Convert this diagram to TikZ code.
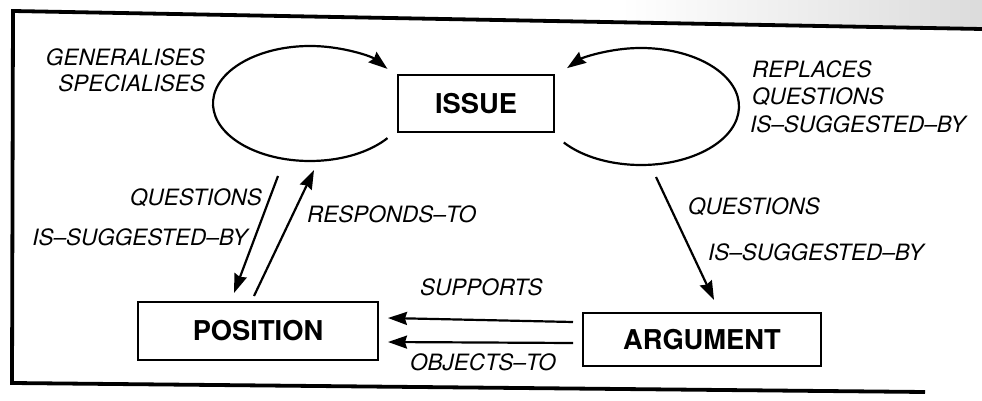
\documentclass[tikz,border=0pt]{standalone}
\usepackage{fontspec}
\setmainfont{TeX Gyre Heros}
\usetikzlibrary{arrows.meta,calc}
\begin{document}
\begin{tikzpicture}[x=1pt,y=-1pt,
  entity/.style={draw, line width=1.6pt, inner sep=0pt,
    font=\fontsize{27.3}{32}\selectfont\bfseries},
  rel/.style={inner sep=0pt, font=\fontsize{22.5}{27}\selectfont\itshape},
  link/.style={line width=2.2pt,
    -{Stealth[length=19pt,width=13pt,inset=2pt]}},
  frameline/.style={line width=3.8pt, line join=miter}]
\useasboundingbox (0,0) rectangle (982,401);

% paper tone above the frame
\shade[left color=white, right color=black!14, draw=none]
  (620,0) -- (982,0) -- (982,28) -- (620,22) -- cycle;

% outer frame
\draw[frameline] (982,29) -- (13,11) -- (12,383) -- (925,392);

% the three entities
\node[entity, minimum width=156pt, minimum height=57pt] (issue) at (476,103.5) {ISSUE};
\node[entity, minimum width=240pt, minimum height=58pt] (pos) at (258,331) {POSITION};
\node[entity, minimum width=238pt, minimum height=53pt] (arg) at (702,339.5) {ARGUMENT};

% self loops on ISSUE
\draw[link] ($(issue)+(-166,0)$) ++(37:97 and 57.5)
  arc[start angle=37, end angle=323, x radius=97, y radius=57.5];
\draw[link] ($(issue)+(165,3)$) ++(142:98 and 58.5)
  arc[start angle=142, end angle=-139, x radius=98, y radius=58.5];

% ISSUE <-> POSITION
\draw[link] ($(issue)+(-198,72.5)$) -- ($(pos)+(-24,-38)$);
\draw[link] ($(pos)+(-4,-35)$) -- ($(issue)+(-162,66.5)$);

% ISSUE -> ARGUMENT
\draw[link] ($(issue)+(180,73.5)$) -- ($(arg)+(12,-39.5)$);

% ARGUMENT -> POSITION
\draw[link] ($(arg)+(-129,-17.5)$) -- ($(pos)+(130,-13)$);
\draw[link] ($(arg)+(-129,3.5)$) -- ($(pos)+(130,11)$);

% relation labels
\node[rel, anchor=base east] (l1) at (205,65.5) {GENERALISES};
\node[rel, anchor=base east] (l2) at (205,91.5) {SPECIALISES};

\node[rel, anchor=base west] (r1) at (752,78) {REPLACES};
\node[rel, anchor=base west] (r2) at (752,104.5) {QUESTIONS};
\node[rel, anchor=base west] (r3) at (750,132) {IS--SUGGESTED--BY};

\node[rel, anchor=base east] (q1) at (262,205) {QUESTIONS};
\node[rel, anchor=base] (q2) at (140,245) {IS--SUGGESTED--BY};
\node[rel, anchor=base west] (q3) at (307,222) {RESPONDS--TO};

\node[rel, anchor=base west] (a1) at (688,214) {QUESTIONS};
\node[rel, anchor=base west] (a2) at (708,260) {IS--SUGGESTED--BY};

\node[rel, anchor=base west] (s1) at (420,295) {SUPPORTS};
\node[rel, anchor=base west] (s2) at (410,370) {OBJECTS--TO};
\end{tikzpicture}
\end{document}
